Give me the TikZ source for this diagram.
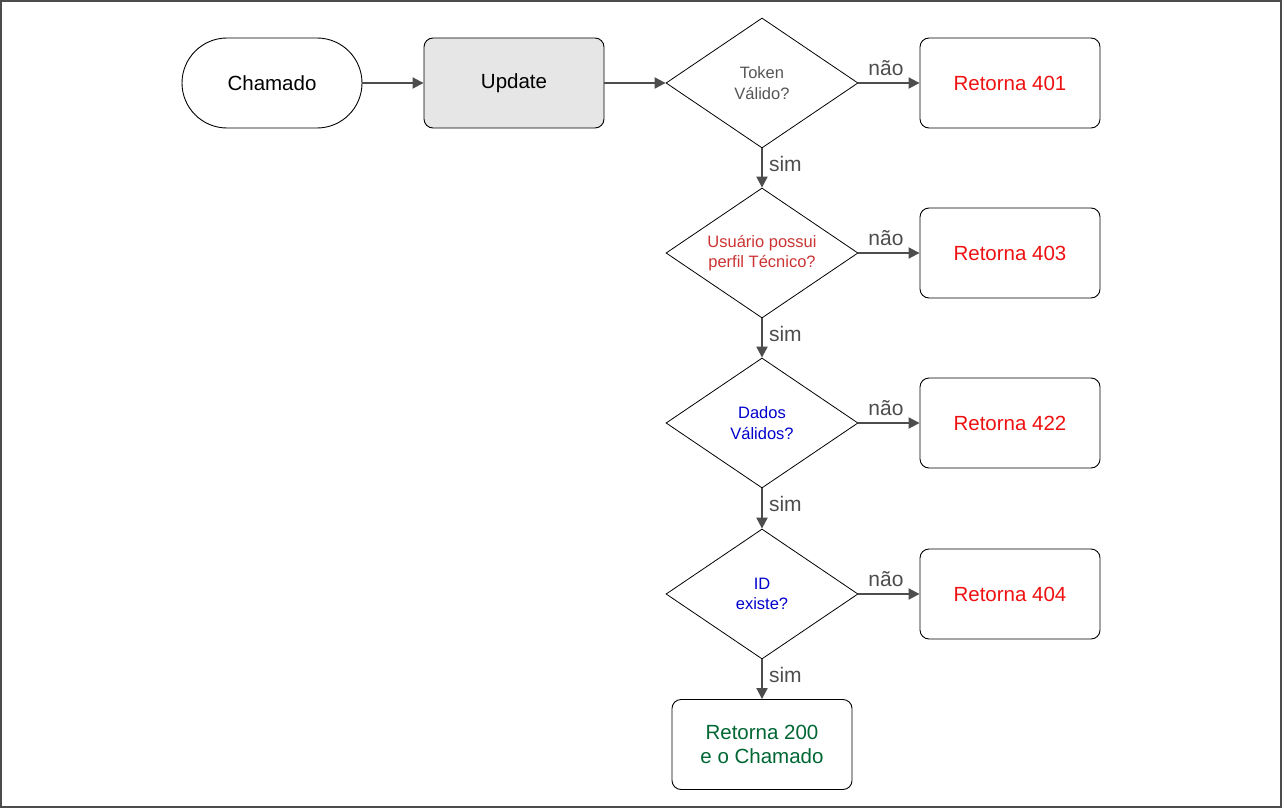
\documentclass[tikz,border=0pt]{standalone}
\usepackage{fontspec}
\setmainfont{Liberation Sans}
\usetikzlibrary{shapes.geometric,arrows.meta}
\definecolor{edgec}{HTML}{4D4D4D}
\definecolor{redc}{HTML}{EE1111}
\definecolor{rosec}{HTML}{CC3333}
\definecolor{bluec}{HTML}{0000CC}
\definecolor{greenc}{HTML}{006633}
\definecolor{grayt}{HTML}{555555}
\definecolor{fillg}{HTML}{E6E6E6}
\begin{document}
\begin{tikzpicture}[x=1pt,y=-1pt,
  box/.style={draw=black, line width=0.9pt, rounded corners=9pt, minimum width=180pt, minimum height=90pt, align=center, font=\fontsize{20.5}{24.5}\selectfont},
  term/.style={draw=black, line width=0.9pt, rounded corners=45pt, minimum width=180pt, minimum height=90pt, align=center, font=\fontsize{20.5}{24.5}\selectfont},
  dec/.style={draw=black, line width=0.8pt, diamond, minimum width=192pt, minimum height=130pt, inner sep=0pt, aspect=1.48, align=center, font=\fontsize{16.5}{20.5}\selectfont},
  conn/.style={draw=edgec, line width=2pt, -{Triangle[length=11pt,width=11pt]}},
  lab/.style={text=edgec, font=\fontsize{21}{25}\selectfont, inner sep=0pt}
]
\useasboundingbox (0,0) rectangle (1282,808);
\draw[draw=black!70, line width=2pt] (1,1) rectangle (1281,807);

\node[term] (start) at (272,83) {Chamado};
\node[box, fill=fillg] (upd) at (514,83) {Update};

\node[dec, text=grayt] (d1) at (762,83) {Token\\Válido?};
\node[dec, text=rosec] (d2) at (762,253) {Usuário possui\\perfil Técnico?};
\node[dec, text=bluec] (d3) at (762,423) {Dados\\Válidos?};
\node[dec, text=bluec] (d4) at (762,594) {ID\\existe?};

\node[box, text=redc] (r401) at (1010,83) {Retorna 401};
\node[box, text=redc] (r403) at (1010,253) {Retorna 403};
\node[box, text=redc] (r422) at (1010,423) {Retorna 422};
\node[box, text=redc] (r404) at (1010,594) {Retorna 404};
\node[box, text=greenc] (r200) at (762,744.5) {Retorna 200\\e o Chamado};

\draw[conn] (start) -- (upd);
\draw[conn] (upd) -- (d1);

\draw[conn] (d1) -- node[lab, above=6pt, pos=0.45] {não} (r401);
\draw[conn] (d2) -- node[lab, above=6pt, pos=0.45] {não} (r403);
\draw[conn] (d3) -- node[lab, above=6pt, pos=0.45] {não} (r422);
\draw[conn] (d4) -- node[lab, above=6pt, pos=0.45] {não} (r404);

\draw[conn] (d1) -- node[lab, right=6pt, pos=0.4] {sim} (d2);
\draw[conn] (d2) -- node[lab, right=6pt, pos=0.4] {sim} (d3);
\draw[conn] (d3) -- node[lab, right=6pt, pos=0.4] {sim} (d4);
\draw[conn] (d4) -- node[lab, right=6pt, pos=0.4] {sim} (r200);
\end{tikzpicture}
\end{document}
